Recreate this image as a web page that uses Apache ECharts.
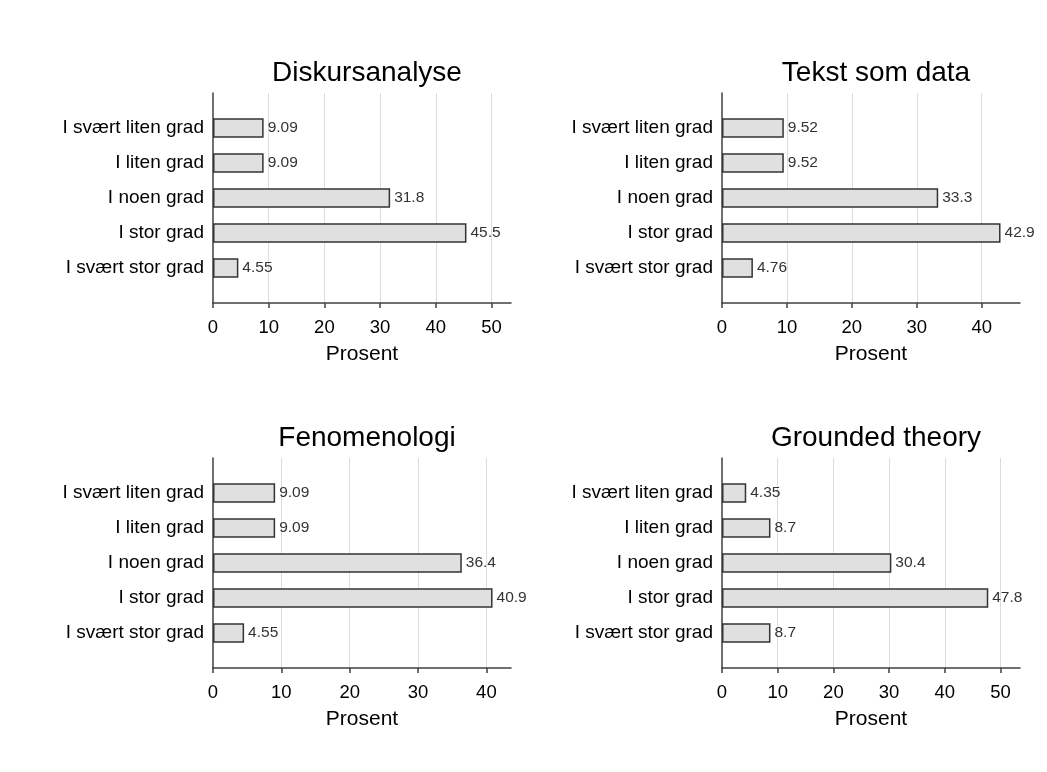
<!DOCTYPE html>
<html>
<head>
<meta charset="utf-8">
<script src="https://cdn.jsdelivr.net/npm/echarts@6/dist/echarts.min.js"></script>
<style>html,body{margin:0;padding:0;background:#fff}#c{width:1047px;height:772px}</style>
</head>
<body>
<div id="c"></div>
<script>
const categories = ['I svært liten grad', 'I liten grad', 'I noen grad', 'I stor grad', 'I svært stor grad'];
const titles = ['Diskursanalyse', 'Tekst som data', 'Fenomenologi', 'Grounded theory'];
const diskursanalyse = [9.09, 9.09, 31.8, 45.5, 4.55];
const tekstSomData = [9.52, 9.52, 33.3, 42.9, 4.76];
const fenomenologi = [9.09, 9.09, 36.4, 40.9, 4.55];
const groundedTheory = [4.35, 8.7, 30.4, 47.8, 8.7];
const axisMax = [53.5, 45.9, 43.6, 53.5];
const xTicks = [0, 10, 20, 30, 40, 50];
const axisName = 'Prosent';

const seriesValues = [diskursanalyse, tekstSomData, fenomenologi, groundedTheory];
const FONT = '"Liberation Sans", Arial, sans-serif';
const grids = [
  {left: 213, top: 93, width: 298, height: 210},
  {left: 722, top: 93, width: 298, height: 210},
  {left: 213, top: 458, width: 298, height: 210},
  {left: 722, top: 458, width: 298, height: 210}
];
const paddedCats = [''].concat(categories, ['']);

const option = {
  animation: false,
  backgroundColor: '#fff',
  textStyle: {fontFamily: FONT},
  title: titles.map((t, i) => ({
    text: t,
    left: grids[i].left + grids[i].width / 2,
    top: grids[i].top - 39,
    textAlign: 'center',
    textStyle: {fontFamily: FONT, fontSize: 28, fontWeight: 'normal', color: '#000'}
  })),
  grid: grids.map(g => Object.assign({containLabel: false}, g)),
  xAxis: grids.map((g, i) => ({
    type: 'value', gridIndex: i, min: 0, max: axisMax[i], interval: 10,
    name: axisName, nameLocation: 'middle', nameGap: 41,
    nameTextStyle: {fontFamily: FONT, fontSize: 21, color: '#000'},
    axisLine: {show: true, lineStyle: {color: '#404040', width: 1.5}},
    axisTick: {show: true, length: 5, lineStyle: {color: '#404040', width: 1.5},
      customValues: xTicks.filter(v => v <= axisMax[i])},
    axisLabel: {fontFamily: FONT, fontSize: 18.5, color: '#000', margin: 15,
      customValues: xTicks.filter(v => v <= axisMax[i])},
    splitLine: {show: false}
  })),
  yAxis: grids.map((g, i) => ({
    type: 'category', gridIndex: i, data: paddedCats, inverse: true, boundaryGap: false,
    axisLine: {show: true, lineStyle: {color: '#404040', width: 1.5}},
    axisTick: {show: false},
    axisLabel: {fontFamily: FONT, fontSize: 19, color: '#000', margin: 9, padding: [3, 0, 0, 0]},
    splitLine: {show: false}
  })),
  series: seriesValues.map((vals, i) => ({
    type: 'bar', xAxisIndex: i, yAxisIndex: i,
    data: ['-'].concat(vals, ['-']),
    barWidth: 19.5,
    itemStyle: {color: '#e0e0e0', borderColor: '#333', borderWidth: 1.5},
    label: {show: true, position: 'right', distance: 4, fontFamily: FONT, fontSize: 15.5, color: '#333',
      padding: [2, 0, 0, 0]},
    markLine: {
      silent: true, symbol: 'none', label: {show: false}, animation: false,
      lineStyle: {color: '#dcdcdc', width: 1, type: 'solid'},
      z: 0,
      data: xTicks.filter(v => v > 0 && v <= axisMax[i]).map(v => ({xAxis: v}))
    }
  }))
};
const chart = echarts.init(document.getElementById('c'), null, {renderer: 'canvas'});
chart.setOption(option);
</script>
</body>
</html>
